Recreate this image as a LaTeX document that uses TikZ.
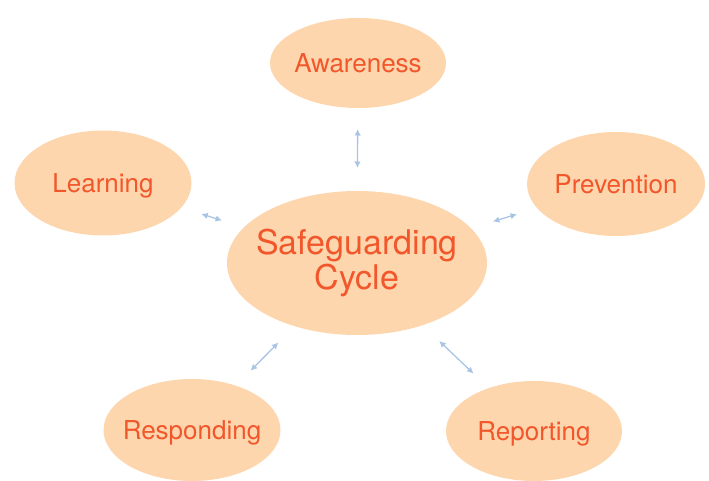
\documentclass[tikz,border=0pt]{standalone}
\usepackage{fontspec}
\setmainfont{TeX Gyre Heros}
\usetikzlibrary{shapes.geometric,arrows.meta}
\definecolor{peach}{HTML}{FDD6AE}
\definecolor{ember}{HTML}{F2562B}
\definecolor{mist}{HTML}{A9C4E4}
% zero-width box so the label does not widen its ellipse
\newcommand{\flatlabel}[1]{\makebox[0pt]{#1}}
\tikzset{
  bubble/.style={ellipse, fill=peach, draw=none, inner sep=0pt, outer sep=0pt,
    text=ember, font=\fontsize{26}{30}\selectfont, text depth=0pt, text height=18.7pt},
  hub/.style={ellipse, fill=peach, draw=none, inner sep=0pt, outer sep=0pt,
    text=ember, font=\fontsize{34}{35.5}\selectfont, align=center},
  link/.style={draw=mist, line width=1.3pt,
    {Latex[length=6.5pt,width=6.5pt]}-{Latex[length=6.5pt,width=6.5pt]},
    shorten <=23pt, shorten >=21pt}
}
\begin{document}
\begin{tikzpicture}[x=1pt,y=-1pt]
  \useasboundingbox (0,0) rectangle (709,481);
  % central ellipse
  \node[hub, minimum width=260pt, minimum height=144pt] (hub) at (357,263)
    {\flatlabel{Safeguarding}\\\flatlabel{Cycle}};
  % the five stages around it
  \node[bubble, minimum width=176pt, minimum height=90pt]  (aware) at (358,63)  {\flatlabel{Awareness}};
  \node[bubble, minimum width=177pt, minimum height=105pt] (learn) at (103,183) {\flatlabel{Learning}};
  \node[bubble, minimum width=178pt, minimum height=104pt] (prev)  at (616,184) {\flatlabel{Prevention}};
  \node[bubble, minimum width=177pt, minimum height=102pt] (resp)  at (192,430) {\flatlabel{Responding}};
  \node[bubble, minimum width=176pt, minimum height=100pt] (rep)   at (534,431) {\flatlabel{Reporting}};
  % two-way links
  \draw[link] (hub) -- (aware);
  \draw[link] (hub) -- (learn);
  \draw[link] (hub) -- (prev);
  \draw[link] (hub) -- (resp);
  \draw[link] (hub) -- (rep);
\end{tikzpicture}
\end{document}
